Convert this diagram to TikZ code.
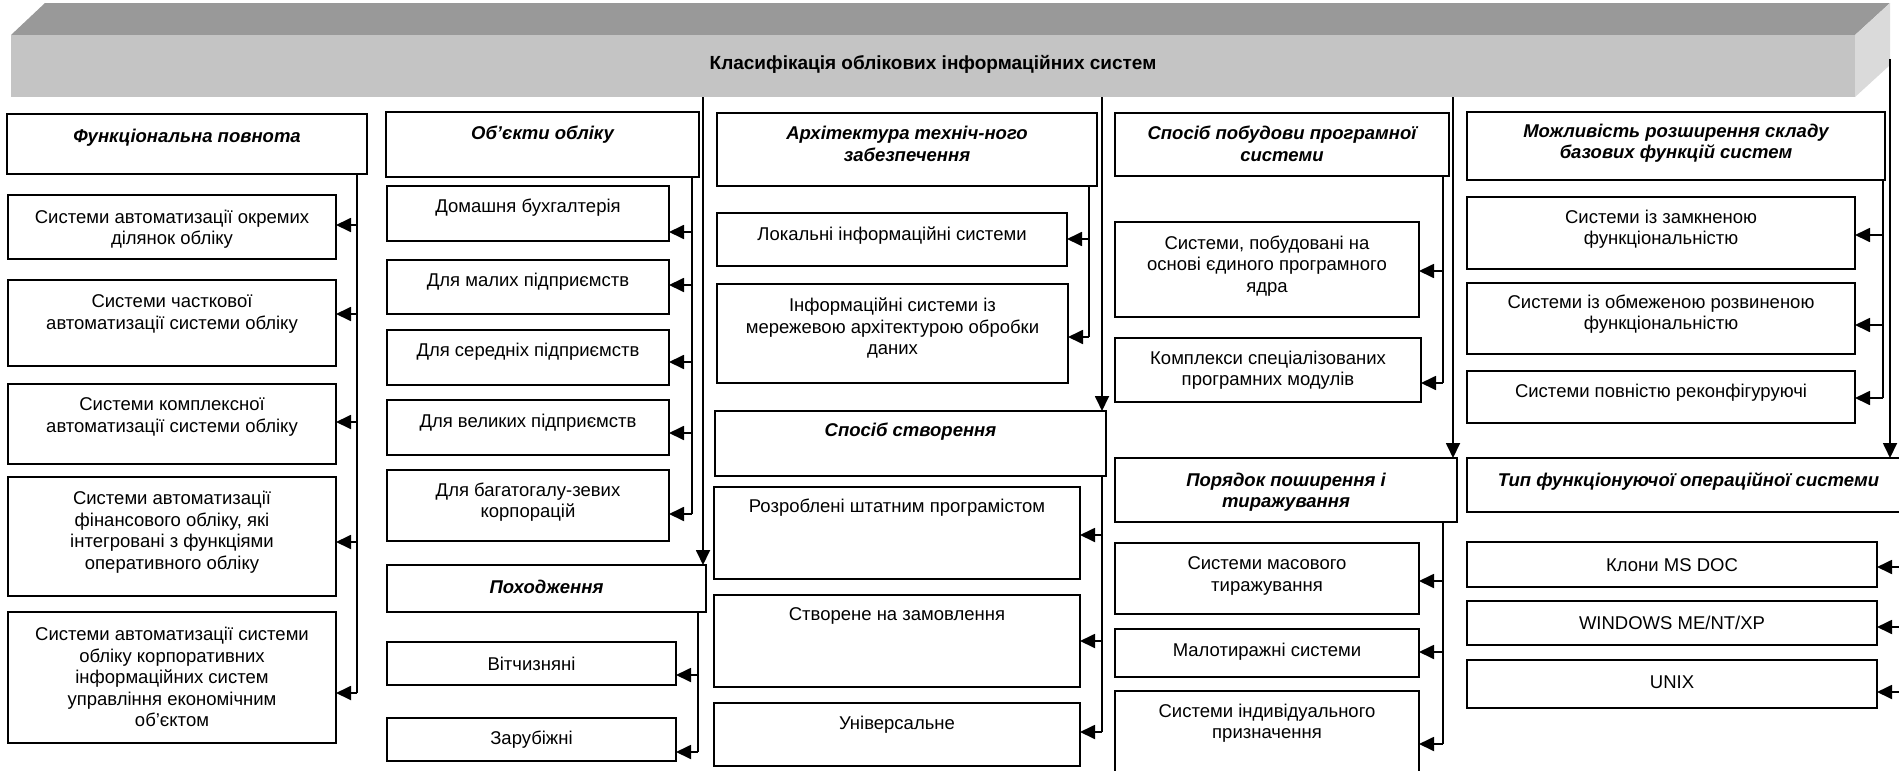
\documentclass[tikz,border=0pt]{standalone}
\usepackage{fontspec}
\setmainfont{Liberation Sans}
\usetikzlibrary{arrows.meta}
\definecolor{topband}{HTML}{999999}
\definecolor{frontface}{HTML}{C4C4C4}
\definecolor{sideface}{HTML}{DADADA}
\tikzset{
  boxs/.style={draw=black, line width=1.9pt, fill=white, inner sep=0pt, outer sep=0pt, anchor=north west},
  txt/.style={align=center, font=\fontsize{18.5}{21.5}\selectfont, inner sep=0pt},
  htxt/.style={align=center, font=\fontsize{18.5}{21.5}\selectfont\bfseries\itshape, inner sep=0pt},
  ln/.style={line width=1.8pt},
  arr/.style={line width=1.8pt, -{Triangle[length=15pt,width=14pt]}},
}
% \bx[textstyle]{name}{x1}{y1}{x2}{y2}{ytext}{text}
\newcommand{\bx}[8][txt]{%
  \node[boxs, minimum width={#5-#3}, minimum height={#6-#4}] (#2) at (#3,#4) {};
  \node[#1] (#2t) at ({(#3+#5)/2},#7) {#8};
}
\begin{document}
\begin{tikzpicture}[x=1pt,y=-1pt]
\useasboundingbox (0,0) rectangle (1899,771);
\clip (0,0) rectangle (1899,771);
\fill[white] (0,0) rectangle (1899,771);

% ---------- banner ----------
\fill[topband] (11,35) -- (45,3) -- (1890,3) -- (1855,35) -- cycle;
\node[fill=frontface, anchor=north west, inner sep=0pt, outer sep=0pt,
      minimum width=1844pt, minimum height=62pt] (ban) at (11,35) {};
\fill[sideface] (1855,35) -- (1890,3) -- (1890,65) -- (1855,97) -- cycle;
\node[font=\fontsize{19}{22}\selectfont\bfseries, inner sep=0pt] (title) at (933,64)
  {Класифікація облікових інформаційних систем};

% ---------- column 1 ----------
\bx[htxt]{c1h}{7}{114}{367}{174}{138}{Функціональна повнота}
\bx{c1a}{8}{195}{336}{259}{229}{Системи автоматизації окремих\\ділянок обліку}
\bx{c1b}{8}{280}{336}{366}{314}{Системи часткової\\автоматизації системи обліку}
\bx{c1c}{8}{384}{336}{464}{417}{Системи комплексної\\автоматизації системи обліку}
\bx{c1d}{8}{477}{336}{596}{532}{Системи автоматизації\\фінансового обліку, які\\інтегровані з функціями\\оперативного обліку}
\bx{c1e}{8}{612}{336}{743}{677}{Системи автоматизації системи\\обліку корпоративних\\інформаційних систем\\управління економічним\\об’єктом}
\draw[ln] (c1h.south -| 357,0) -- (357,693);
\draw[arr] (357,225) -- (c1a.east |- 0,225);
\draw[arr] (357,314) -- (c1b.east |- 0,314);
\draw[arr] (357,422) -- (c1c.east |- 0,422);
\draw[arr] (357,542) -- (c1d.east |- 0,542);
\draw[arr] (357,693) -- (c1e.east |- 0,693);

% ---------- column 2 ----------
\bx[htxt]{c2h}{386}{112}{699}{177}{135}{Об’єкти обліку}
\bx{c2a}{387}{186}{669}{241}{208}{Домашня бухгалтерія}
\bx{c2b}{387}{260}{669}{314}{282}{Для малих підприємств}
\bx{c2c}{387}{330}{669}{385}{352}{Для середніх підприємств}
\bx{c2d}{387}{400}{669}{455}{423}{Для великих підприємств}
\bx{c2e}{387}{470}{669}{541}{502}{Для багатогалу-зевих\\корпорацій}
\draw[ln] (c2h.south -| 692,0) -- (692,514);
\draw[arr] (692,232) -- (c2a.east |- 0,232);
\draw[arr] (692,285) -- (c2b.east |- 0,285);
\draw[arr] (692,362) -- (c2c.east |- 0,362);
\draw[arr] (692,433) -- (c2d.east |- 0,433);
\draw[arr] (692,514) -- (c2e.east |- 0,514);
\bx[htxt]{c2p}{387}{565}{706}{612}{587}{Походження}
\bx{c2f}{387}{642}{676}{685}{664}{Вітчизняні}
\bx{c2g}{387}{718}{676}{761}{740}{Зарубіжні}
\draw[ln] (c2p.south -| 698,0) -- (698,752);
\draw[arr] (698,675) -- (c2f.east |- 0,675);
\draw[arr] (698,752) -- (c2g.east |- 0,752);

% ---------- column 3 ----------
\bx[htxt]{c3h}{717}{113}{1097}{186}{144}{Архітектура техніч-ного\\забезпечення}
\bx{c3a}{717}{213}{1067}{266}{236}{Локальні інформаційні системи}
\bx{c3b}{717}{284}{1068}{383}{328}{Інформаційні системи із\\мережевою архітектурою обробки\\даних}
\draw[ln] (c3h.south -| 1089,0) -- (1089,337);
\draw[arr] (1089,239) -- (c3a.east |- 0,239);
\draw[arr] (1089,337) -- (c3b.east |- 0,337);
\bx[htxt]{c3s}{715}{411}{1106}{476}{432}{Спосіб створення}
\bx{c3c}{714}{487}{1080}{579}{508}{Розроблені штатним програмістом}
\bx{c3d}{714}{595}{1080}{687}{616}{Створене на замовлення}
\bx{c3e}{714}{703}{1080}{766}{725}{Універсальне}
\draw[ln] (c3s.south -| 1102,0) -- (1102,732);
\draw[arr] (1102,535) -- (c3c.east |- 0,535);
\draw[arr] (1102,641) -- (c3d.east |- 0,641);
\draw[arr] (1102,732) -- (c3e.east |- 0,732);

% ---------- column 4 ----------
\bx[htxt]{c4h}{1115}{113}{1449}{176}{144}{Спосіб побудови програмної\\системи}
\bx{c4a}{1115}{222}{1419}{317}{266}{Системи, побудовані на\\основі єдиного програмного\\ядра}
\bx{c4b}{1115}{338}{1421}{402}{370}{Комплекси спеціалізованих\\програмних модулів}
\draw[ln] (c4h.south -| 1443,0) -- (1443,383);
\draw[arr] (1443,271) -- (c4a.east |- 0,271);
\draw[arr] (1443,383) -- (c4b.east |- 0,383);
\bx[htxt]{c4p}{1115}{458}{1457}{522}{492}{Порядок поширення і\\тиражування}
\bx{c4c}{1115}{543}{1419}{614}{576}{Системи масового\\тиражування}
\bx{c4d}{1115}{629}{1419}{677}{652}{Малотиражні системи}
\bx{c4e}{1115}{691}{1419}{790}{723}{Системи індивідуального\\призначення}
\draw[ln] (c4p.south -| 1443,0) -- (1443,744);
\draw[arr] (1443,581) -- (c4c.east |- 0,581);
\draw[arr] (1443,652) -- (c4d.east |- 0,652);
\draw[arr] (1443,744) -- (c4e.east |- 0,744);

% ---------- column 5 ----------
\bx[htxt]{c5h}{1467}{112}{1885}{180}{143}{Можливість розширення складу\\базових функцій систем}
\bx{c5a}{1467}{197}{1855}{269}{229}{Системи із замкненою\\функціональністю}
\bx{c5b}{1467}{283}{1855}{354}{314}{Системи із обмеженою розвиненою\\функціональністю}
\bx{c5c}{1467}{371}{1855}{423}{393}{Системи повністю реконфігуруючі}
\draw[ln] (c5h.south -| 1883,0) -- (1883,398);
\draw[arr] (1883,235) -- (c5a.east |- 0,235);
\draw[arr] (1883,325) -- (c5b.east |- 0,325);
\draw[arr] (1883,398) -- (c5c.east |- 0,398);
\bx[htxt]{c5o}{1467}{458}{1910}{512}{481}{Тип функціонуючої операційної системи}
\bx{c5d}{1467}{542}{1877}{587}{565}{Клони MS DOC}
\bx{c5e}{1467}{601}{1877}{645}{623}{WINDOWS ME/NT/XP}
\bx{c5f}{1467}{660}{1877}{708}{682}{UNIX}
\coordinate (osline) at (1910,520);
\draw[arr] (osline |- 0,567) -- (c5d.east |- 0,567);
\draw[arr] (osline |- 0,627) -- (c5e.east |- 0,627);
\draw[arr] (osline |- 0,692) -- (c5f.east |- 0,692);

% ---------- lines from the banner ----------
\coordinate (sidestart) at (1890,59);
\draw[arr] (ban.south -| 703,0) -- (c2p.north -| 703,0);
\draw[arr] (ban.south -| 1102,0) -- (c3s.north -| 1102,0);
\draw[arr] (ban.south -| 1453,0) -- (c4p.north -| 1453,0);
\draw[arr] (sidestart) -- (c5o.north -| sidestart);
\end{tikzpicture}
\end{document}
